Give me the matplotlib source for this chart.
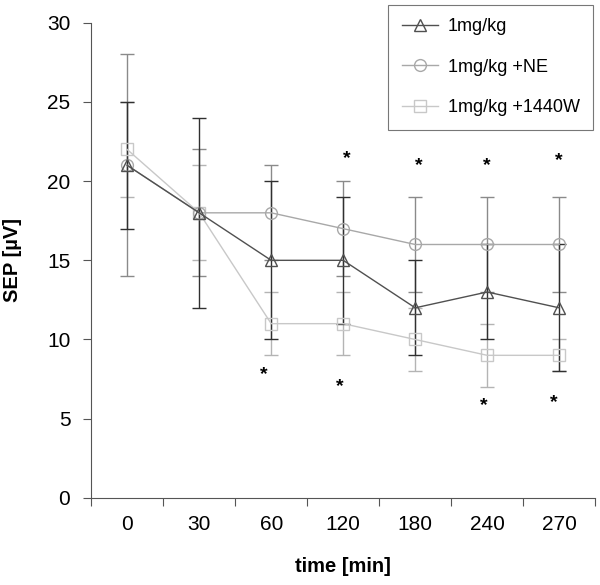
import numpy as np
import matplotlib
matplotlib.use("Agg")
import matplotlib.pyplot as plt

plt.rcParams['font.family'] = ['Liberation Sans', 'DejaVu Sans']

# data
times = ["0", "30", "60", "120", "180", "240", "270"]
sep_1mg = [21, 18, 15, 15, 12, 13, 12]
err_1mg = [4, 6, 5, 4, 3, 3, 4]
sep_ne = [21, 18, 18, 17, 16, 16, 16]
err_ne = [7, 4, 3, 3, 3, 3, 3]
sep_1440 = [22, 18, 11, 11, 10, 9, 9]
err_1440 = [3, 3, 2, 2, 2, 2, 1]

# significance stars (category index, value)
star_x = [1.9, 3.05, 2.95, 4.05, 5.0, 4.95, 6.0, 5.93]
star_y = [7.8, 21.4, 7.0, 21.0, 21.0, 5.8, 21.3, 6.0]

fig = plt.figure(figsize=(6.0, 5.85), dpi=100)
ax = fig.add_axes([0.152, 0.149, 0.84, 0.812])

x = np.arange(len(times))
series = [
    (sep_1440, err_1440, "s", "#c8c8c8", "#b4b4b4", "1mg/kg +1440W"),
    (sep_ne, err_ne, "o", "#a8a8a8", "#8a8a8a", "1mg/kg +NE"),
    (sep_1mg, err_1mg, "^", "#505050", "#303030", "1mg/kg"),
]
handles = {}
for vals, errs, mk, lc, ec, lab in series:
    ax.errorbar(x, vals, yerr=errs, fmt="none", ecolor=ec, elinewidth=1.0,
                capsize=4.8, capthick=1.0, zorder=2)
    h, = ax.plot(x, vals, marker=mk, color=lc, lw=1.0, markersize=8.5,
                 markerfacecolor="none", markeredgecolor=lc, markeredgewidth=1.0,
                 label=lab, zorder=3)
    handles[lab] = h

for sx, sy in zip(star_x, star_y):
    ax.text(sx, sy, "*", ha="center", va="center", fontsize=14, fontweight="bold")

ax.set_xlim(-0.5, 6.5)
ax.set_ylim(0, 30)
ax.set_yticks(range(0, 31, 5))
ax.set_xticks(np.arange(-0.5, 7, 1))
ax.set_xticklabels([])
ax.set_xticks(x, minor=True)
ax.set_xticklabels(times, minor=True)
ax.tick_params(axis="x", which="minor", length=0, pad=12, labelsize=15)
ax.tick_params(axis="x", which="major", length=6, width=0.8, color="#555555")
ax.tick_params(axis="y", length=6, width=0.8, color="#555555", labelsize=15, pad=9)
for s in ["top", "right"]:
    ax.spines[s].set_visible(False)
for s in ["left", "bottom"]:
    ax.spines[s].set_color("#555555")
    ax.spines[s].set_linewidth(0.8)

ax.set_xlabel("time [min]", fontsize=14.5, fontweight="bold", labelpad=17)
ax.set_ylabel("SEP [\u00b5V]", fontsize=14.5, fontweight="bold", labelpad=18)

order = ["1mg/kg", "1mg/kg +NE", "1mg/kg +1440W"]
leg = ax.legend([handles[k] for k in order], order, loc="upper right",
                bbox_to_anchor=(0.996, 1.038), borderaxespad=0, fontsize=13,
                frameon=True, fancybox=False, edgecolor="#555555",
                handlelength=2.0, handletextpad=0.55, labelspacing=1.3,
                borderpad=0.75)
leg.get_frame().set_linewidth(0.8)

fig.savefig("out.png", dpi=100)
